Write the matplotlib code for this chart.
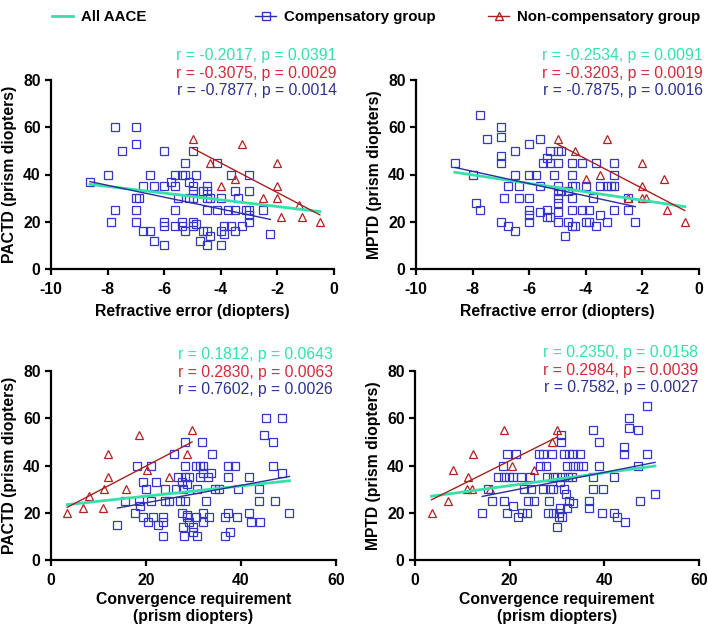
import numpy as np
import matplotlib
matplotlib.use('Agg')
import matplotlib.pyplot as plt
from matplotlib.lines import Line2D

plt.rcParams['font.family'] = ['Liberation Sans', 'DejaVu Sans']
plt.rcParams['axes.unicode_minus'] = False

GREEN = '#35E0AA'
BLUE_PT = '#3535CC'
BLUE_LN = '#2B2F9A'
BLUE_TX = '#2E3192'
RED_PT = '#B22222'
RED_LN = '#A82020'
RED_TX = '#D42A3A'

# ---- refractive error vs PACTD ----
re_pactd_comp = [
    (-8.625, 37), (-8.0, 40), (-7.75, 60), (-7.5, 50), (-7.75, 25), (-7.875, 20),
    (-7.0, 60), (-7.0, 53), (-7.0, 30), (-6.875, 30), (-7.0, 25), (-7.0, 20),
    (-6.75, 35), (-6.75, 16), (-6.5, 16), (-6.5, 40), (-6.375, 35), (-6.375, 12),
    (-6.0, 50), (-6.0, 35), (-6.0, 20), (-6.0, 18), (-6.0, 10), (-5.75, 37),
    (-5.625, 40), (-5.625, 35), (-5.625, 25), (-5.625, 18), (-5.5, 30), (-5.375, 40),
    (-5.375, 20), (-5.375, 18), (-5.25, 45), (-5.25, 40), (-5.25, 16), (-5.125, 37),
    (-5.125, 30), (-5.0, 50), (-5.0, 35), (-5.0, 33), (-5.0, 30), (-5.0, 20),
    (-5.0, 18), (-4.875, 40), (-4.875, 19), (-4.75, 12), (-4.625, 33), (-4.625, 16),
    (-4.5, 35), (-4.5, 33), (-4.5, 30), (-4.5, 25), (-4.5, 16), (-4.5, 10),
    (-4.375, 30), (-4.375, 14), (-4.125, 45), (-4.125, 25), (-4.0, 30), (-4.0, 16),
    (-4.0, 10), (-3.875, 18), (-3.875, 15), (-3.75, 25), (-3.625, 40), (-3.625, 18),
    (-3.5, 33), (-3.5, 25), (-3.5, 16), (-3.375, 30), (-3.25, 18), (-3.125, 25),
    (-3.0, 40), (-3.0, 33), (-3.0, 25), (-3.0, 23), (-3.0, 20), (-2.5, 25), (-2.25, 15),
]
re_pactd_non = [
    (-5.0, 55), (-3.25, 53), (-4.375, 45), (-4.0, 35), (-3.5, 38), (-2.5, 30), (-2.0, 45),
    (-2.0, 35), (-2.0, 30), (-1.875, 22), (-1.25, 27), (-1.125, 22), (-0.5, 20),
]

# ---- refractive error vs MPTD ----
re_mptd_comp = [
    (-8.625, 45), (-8.0, 40), (-7.75, 65), (-7.875, 28), (-7.75, 25), (-7.5, 55),
    (-7.0, 60), (-7.0, 56), (-7.0, 48), (-7.0, 45), (-7.0, 20), (-6.75, 18),
    (-6.5, 16), (-6.875, 30), (-6.75, 35), (-6.5, 50), (-6.5, 40), (-6.375, 35),
    (-6.375, 30), (-6.0, 53), (-6.0, 40), (-5.75, 40), (-6.0, 30), (-6.0, 25),
    (-6.0, 23), (-6.0, 20), (-5.625, 55), (-5.625, 35), (-5.625, 24), (-5.5, 45),
    (-5.375, 47), (-5.25, 50), (-5.25, 45), (-5.375, 25), (-5.375, 22), (-5.25, 22),
    (-5.125, 40), (-5.0, 50), (-4.875, 50), (-5.0, 45), (-5.0, 35), (-5.0, 33),
    (-5.0, 30), (-5.0, 28), (-5.0, 24), (-5.0, 20), (-4.875, 33), (-4.625, 33),
    (-4.625, 20), (-4.5, 18), (-4.375, 18), (-4.75, 14), (-4.5, 45), (-4.5, 40),
    (-4.5, 35), (-4.375, 35), (-4.5, 30), (-4.5, 25), (-4.125, 45), (-4.125, 25),
    (-3.875, 25), (-4.0, 35), (-4.0, 20), (-3.875, 20), (-3.75, 30), (-3.625, 45),
    (-3.5, 23), (-3.625, 18), (-3.5, 35), (-3.25, 35), (-3.125, 35), (-3.0, 35),
    (-3.25, 20), (-3.0, 45), (-3.0, 40), (-3.0, 25), (-2.5, 30), (-2.5, 25), (-2.25, 20),
]
re_mptd_non = [
    (-5.0, 55), (-4.375, 50), (-3.25, 55), (-4.0, 38), (-3.5, 40), (-2.5, 30), (-2.0, 45),
    (-2.0, 35), (-2.0, 30), (-1.875, 30), (-1.25, 38), (-1.125, 25), (-0.5, 20),
]

# ---- convergence requirement vs PACTD ----
cr_pactd_comp = [
    (14.0, 15), (15.6, 25), (17.6, 20), (18.1, 40), (18.5, 25), (18.7, 23), (19.3, 33),
    (19.3, 18), (20.0, 30), (20.4, 16), (21.1, 40), (21.1, 25), (21.5, 18), (22.0, 33),
    (22.5, 15), (23.5, 16), (23.5, 18), (23.5, 10), (24.1, 30), (24.1, 25), (24.8, 25),
    (25.9, 45), (26.3, 30), (26.7, 35), (27.1, 25), (27.6, 20), (27.6, 33), (27.7, 30),
    (27.7, 14), (27.9, 10), (28.3, 50), (28.3, 40), (28.3, 35), (28.3, 25), (28.6, 18),
    (28.6, 19), (29.1, 16), (29.1, 35), (28.6, 32), (29.9, 14), (29.8, 12), (30.5, 40),
    (30.5, 18), (30.7, 10), (30.7, 30), (31.3, 35), (31.8, 50), (31.4, 40), (32.1, 40),
    (31.9, 20), (31.9, 16), (32.1, 37), (32.6, 25), (33.1, 35), (33.3, 18), (33.6, 37),
    (33.8, 45), (34.5, 30), (35.3, 30), (36.6, 10), (36.6, 18), (37.2, 35), (37.3, 40),
    (37.2, 20), (37.6, 12), (38.7, 40), (39.2, 18), (39.4, 30), (41.6, 35), (41.6, 20),
    (42.1, 16), (43.7, 30), (43.7, 25), (44.1, 16), (44.8, 53), (45.2, 60), (46.7, 50),
    (46.7, 40), (47.2, 25), (48.6, 60), (48.7, 37), (50.2, 20),
]
cr_pactd_non = [
    (3.4, 20), (6.8, 22), (7.9, 27), (10.9, 22), (11.2, 30), (11.9, 35), (11.9, 45),
    (15.8, 30), (18.5, 53), (20.2, 38), (24.9, 35), (28.6, 45), (29.7, 55),
]

# ---- convergence requirement vs MPTD ----
cr_mptd_comp = [
    (14.2, 20), (16.2, 25), (15.5, 30), (17.6, 35), (18.7, 35), (19.8, 35), (20.8, 35),
    (22.3, 35), (18.5, 40), (18.7, 25), (19.5, 45), (21.3, 45), (20.6, 23), (19.5, 20),
    (21.8, 18), (22.7, 20), (23.6, 20), (23.0, 30), (24.5, 30), (23.8, 25), (25.2, 25),
    (24.4, 35), (26.1, 45), (27.1, 45), (28.9, 45), (26.4, 40), (27.7, 40), (27.8, 35),
    (29.2, 35), (29.9, 35), (31.0, 35), (27.1, 30), (28.5, 30), (29.2, 30), (28.4, 25),
    (28.1, 20), (29.2, 20), (30.1, 14), (30.5, 20), (30.5, 18), (31.1, 18), (30.6, 22),
    (30.6, 33), (30.8, 53), (30.8, 50), (31.5, 45), (31.5, 30), (32.0, 28), (32.2, 40),
    (33.3, 40), (34.4, 40), (35.4, 40), (32.5, 45), (33.3, 45), (34.9, 45), (32.4, 35),
    (33.1, 35), (32.6, 25), (33.4, 24), (32.2, 22), (36.8, 25), (36.8, 22), (37.5, 35),
    (37.7, 30), (39.8, 30), (37.7, 55), (38.9, 50), (38.9, 40), (39.6, 20), (42.1, 35),
    (42.1, 20), (42.6, 18), (44.1, 48), (44.1, 45), (44.4, 16), (45.2, 60), (45.2, 56),
    (47.2, 55), (47.2, 40), (47.5, 25), (49.0, 65), (49.0, 45), (50.7, 28),
]
cr_mptd_non = [
    (3.5, 20), (7.0, 25), (8.0, 38), (11.3, 35), (11.0, 30), (12.1, 30), (12.3, 45),
    (15.9, 30), (18.7, 55), (20.5, 40), (25.2, 38), (28.9, 50), (29.9, 55),
]

# fitted lines: (slope, intercept) for all / non-comp / comp
fits = [
    [(-1.42, 23.6), (-6.27, 19.8), (-2.51, 15.35)],
    [(-1.79, 25.5), (-6.25, 21.6), (-2.60, 20.55)],
    [(0.216, 22.7), (1.053, 18.7), (0.370, 16.8)],
    [(0.271, 26.05), (1.00, 22.0), (0.395, 21.3)],
]
stats = [
    ['r = -0.2017, p = 0.0391', 'r = -0.3075, p = 0.0029', 'r = -0.7877, p = 0.0014'],
    ['r = -0.2534, p = 0.0091', 'r = -0.3203, p = 0.0019', 'r = -0.7875, p = 0.0016'],
    ['r = 0.1812, p = 0.0643', 'r = 0.2830, p = 0.0063', 'r = 0.7602, p = 0.0026'],
    ['r = 0.2350, p = 0.0158', 'r = 0.2984, p = 0.0039', 'r = 0.7582, p = 0.0027'],
]

fig = plt.figure(figsize=(7.08, 6.3), dpi=100)
W, H = 708, 630
ax1 = fig.add_axes([51 / W, 1 - 269 / H, 283 / W, 189 / H])
ax2 = fig.add_axes([416 / W, 1 - 269 / H, 283 / W, 189 / H])
ax3 = fig.add_axes([51 / W, 1 - 560 / H, 285 / W, 189 / H])
ax4 = fig.add_axes([415 / W, 1 - 560 / H, 284 / W, 189 / H])


def panel(ax, comp, non, fit, stat, xlim, xticks, xlabel, ylabel, tx, ty, xpad):
    cx, cy = np.array(comp).T
    nx, ny = np.array(non).T
    ax.plot(cx, cy, 's', mfc='none', mec=BLUE_PT, ms=5.8, mew=0.9, clip_on=False, zorder=2)
    ax.plot(nx, ny, '^', mfc='none', mec=RED_PT, ms=5.5, mew=0.9, clip_on=False, zorder=2)
    allx = np.concatenate([cx, nx])
    for (slope, icpt), xs, col, lw in [(fit[0], allx, GREEN, 2.0),
                                       (fit[1], nx, RED_LN, 1.0),
                                       (fit[2], cx, BLUE_LN, 1.0)]:
        xx = np.array([xs.min(), xs.max()])
        ax.plot(xx, icpt + slope * xx, color=col, lw=lw, zorder=3, clip_on=False)
    for s, col, y in zip(stat, [GREEN, RED_TX, BLUE_TX], ty):
        ax.text(tx, y, s, color=col, fontsize=11.3, ha='right', va='center',
                transform=ax.transAxes)
    ax.set_xlim(xlim)
    ax.set_ylim(0, 80)
    ax.set_xticks(xticks)
    ax.set_yticks([0, 20, 40, 60, 80])
    for sp in ['top', 'right']:
        ax.spines[sp].set_visible(False)
    for sp in ['left', 'bottom']:
        ax.spines[sp].set_linewidth(1.6)
    ax.tick_params(direction='out', length=4.5, width=1.6, labelsize=11.3, pad=3)
    ax.tick_params(axis='x', pad=5)
    for lab in ax.get_xticklabels() + ax.get_yticklabels():
        lab.set_fontweight('bold')
    ax.set_xlabel(xlabel, fontsize=11.3, fontweight='bold', labelpad=xpad, linespacing=1.1)
    ax.set_ylabel(ylabel, fontsize=11.3, fontweight='bold', labelpad=4)


re_ticks = [-10, -8, -6, -4, -2, 0]
cr_ticks = [0, 20, 40, 60]
panel(ax1, re_pactd_comp, re_pactd_non, fits[0], stats[0], (-10, 0), re_ticks,
      'Refractive error (diopters)', 'PACTD (prism diopters)', 1.01,
      [1.132, 1.037, 0.942], 5)
panel(ax2, re_mptd_comp, re_mptd_non, fits[1], stats[1], (-10, 0), re_ticks,
      'Refractive error (diopters)', 'MPTD (prism diopters)', 1.014,
      [1.132, 1.037, 0.942], 5)
panel(ax3, cr_pactd_comp, cr_pactd_non, fits[2], stats[2], (0, 60), cr_ticks,
      'Convergence requirement\n(prism diopters)', 'PACTD (prism diopters)', 0.99,
      [1.088, 0.991, 0.903], 3)
panel(ax4, cr_mptd_comp, cr_mptd_non, fits[3], stats[3], (0, 60), cr_ticks,
      'Convergence requirement\n(prism diopters)', 'MPTD (prism diopters)', 0.997,
      [1.097, 1.0, 0.912], 3)

# legend row
handles = [
    (Line2D([], [], color=GREEN, lw=2.0), 'All AACE', 52),
    (Line2D([], [], color=BLUE_LN, lw=1.0, marker='s', mfc='none', mec=BLUE_PT, ms=5.5),
     'Compensatory group', 255),
    (Line2D([], [], color=RED_LN, lw=1.0, marker='^', mfc='none', mec=RED_PT, ms=5.5),
     'Non-compensatory group', 488),
]
for h, lab, x in handles:
    fig.legend([h], [lab], loc='center left', bbox_to_anchor=(x / W, 1 - 17 / H),
               frameon=False, handlelength=1.4, handletextpad=0.55, borderpad=0,
               borderaxespad=0, prop={'weight': 'bold', 'size': 10.8})

fig.savefig('out.png', dpi=100)
